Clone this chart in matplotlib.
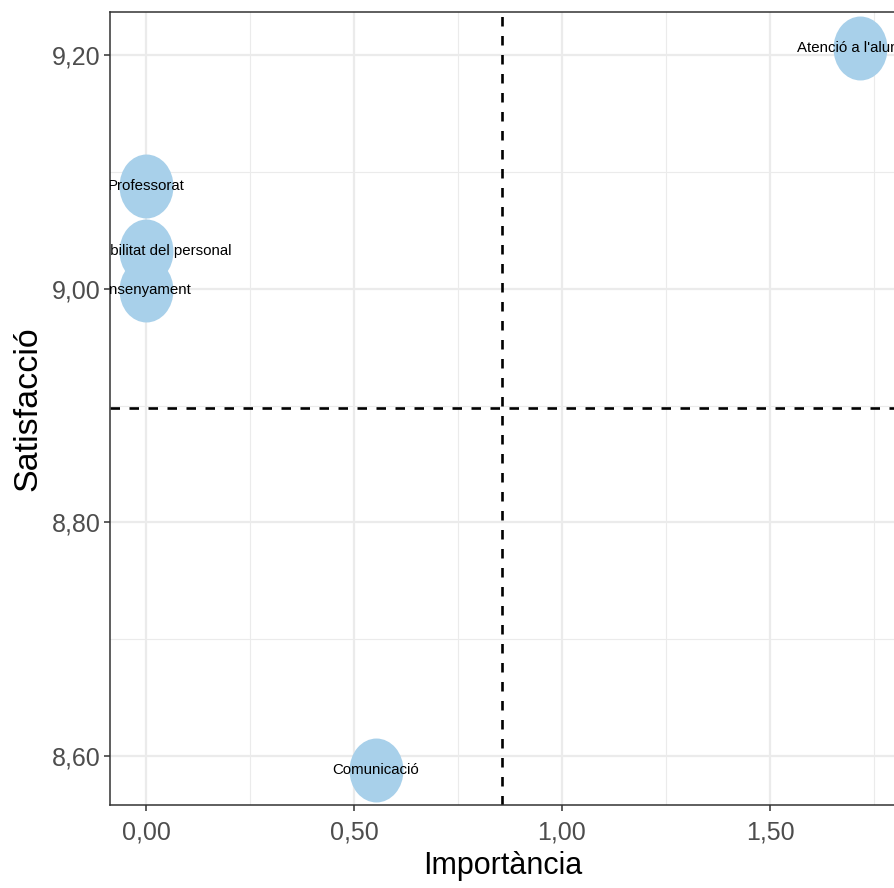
import matplotlib.pyplot as plt
from matplotlib.path import Path
from matplotlib.transforms import Affine2D
from matplotlib.ticker import MultipleLocator, FuncFormatter

# Data
labels = ["Atenció a l'alumnat", "Professorat", "Disponibilitat del personal",
          "Ensenyament", "Comunicació"]
importancia = [1.716, 0.0, 0.0, 0.0, 0.553]
satisfaccio = [9.206, 9.088, 9.032, 8.999, 8.588]
mean_imp = 0.856
mean_sat = 8.898

plt.rcParams['font.family'] = ['Liberation Sans', 'DejaVu Sans']

fig = plt.figure(figsize=(8.94, 8.88), dpi=100)
# axes run to the right edge of the figure, like the cropped original
ax = fig.add_axes([110/894, 83/888, 786/894, 793/888])

# tall ellipse marker (the original looks stretched vertically)
ell = Path.unit_circle().transformed(Affine2D().scale(54, 64))
ax.scatter(importancia, satisfaccio, marker=ell, s=2120, color="#a8d0ea",
           linewidths=0, zorder=3)

for lab, x, y in zip(labels, importancia, satisfaccio):
    ax.text(x, y, lab, ha="center", va="center", fontsize=10.8,
            color="black", zorder=4, clip_on=True)

ax.axvline(mean_imp, color="black", linestyle=(0, (3.6, 3.6)), linewidth=1.9, zorder=2)
ax.axhline(mean_sat, color="black", linestyle=(0, (3.6, 3.6)), linewidth=1.9, zorder=2)

ax.set_xlim(-0.0865, 1.803)
ax.set_ylim(8.558, 9.237)

ax.xaxis.set_major_locator(MultipleLocator(0.5))
ax.xaxis.set_minor_locator(MultipleLocator(0.25))
ax.yaxis.set_major_locator(MultipleLocator(0.2))
ax.yaxis.set_minor_locator(MultipleLocator(0.1))
fmt = FuncFormatter(lambda v, p: f"{v:.2f}".replace(".", ","))
ax.xaxis.set_major_formatter(fmt)
ax.yaxis.set_major_formatter(fmt)

ax.grid(which="major", color="#ebebeb", linewidth=1.6, zorder=0)
ax.grid(which="minor", color="#ebebeb", linewidth=0.8, zorder=0)
ax.set_axisbelow(True)

ax.tick_params(which="major", length=4, width=1.1, color="#333333",
               labelsize=18, labelcolor="#4d4d4d", pad=3)
ax.tick_params(axis="x", which="major", pad=7)
ax.tick_params(which="minor", length=0)

for side in ["left", "bottom", "top"]:
    ax.spines[side].set_color("#333333")
    ax.spines[side].set_linewidth(1.1)
ax.spines["right"].set_visible(False)

ax.set_xlabel("Importància", fontsize=22, labelpad=5)
ax.set_ylabel("Satisfacció", fontsize=24.5, labelpad=6)

fig.savefig("out.png", dpi=100)
